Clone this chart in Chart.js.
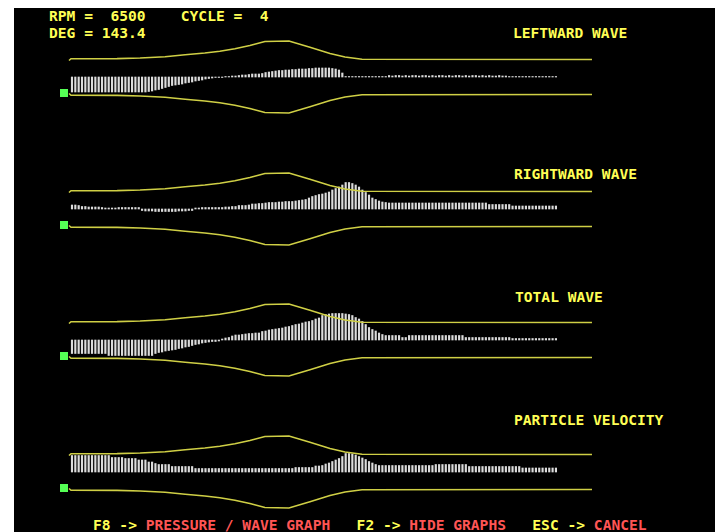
<!DOCTYPE html>
<html>
<head>
<meta charset="utf-8">
<script src="https://cdn.jsdelivr.net/npm/chart.js@4.4.0/dist/chart.umd.min.js"></script>
<style>
  body { margin: 0; background: #fff; width: 724px; height: 532px; overflow: hidden; position: relative; }
  #screen { position: absolute; left: 14px; top: 8px; width: 701px; height: 524px; background: #000; }
  .t { position: absolute; font-family: "DejaVu Sans Mono", monospace; font-weight: bold; font-size: 14.6px; line-height: 14.6px; white-space: pre; color: #ffff55; }
  .r { color: #ff5555; }
  canvas { position: absolute; }
</style>
</head>
<body>
<div id="screen"></div>
<div class="t" style="left:49px;top:9px">RPM =  6500    CYCLE =  4</div>
<div class="t" style="left:49px;top:26px">DEG = 143.4</div>
<div class="t" style="left:513px;top:26px">LEFTWARD WAVE</div>
<div class="t" style="left:514px;top:167px">RIGHTWARD WAVE</div>
<div class="t" style="left:515px;top:290px">TOTAL WAVE</div>
<div class="t" style="left:514px;top:413px">PARTICLE VELOCITY</div>
<div class="t" style="left:93px;top:518px">F8 -&gt; <span class="r">PRESSURE / WAVE GRAPH</span>   F2 -&gt; <span class="r">HIDE GRAPHS</span>   ESC -&gt; <span class="r">CANCEL</span></div>

<canvas id="c0" width="560" height="100" style="left:50px;top:27px"></canvas>
<canvas id="c1" width="560" height="100" style="left:50px;top:159px"></canvas>
<canvas id="c2" width="560" height="100" style="left:50px;top:290px"></canvas>
<canvas id="c3" width="560" height="100" style="left:50px;top:422px"></canvas>

<script>
// pipe outline: station along the pipe (cell units) and half width
const pipeStation = [-0.9, -0.3, 13.5, 20.4, 27.9, 33.9, 39.8, 44.3, 48.8, 53.3, 57.8, 65.0, 71.3, 77.3, 81.8, 86.9, 155.8];
const pipeRadius  = [16.5, 18.3, 18.4, 19.0, 20.3, 22.3, 24.0, 25.8, 28.3, 31.5, 35.5, 36.0, 29.7, 23.5, 20.0, 17.8, 17.5];

// piston marker
const markerStation = -2.4;
const markerValue = -16;

// one value per pipe cell (146 cells)
const leftwardWave = [
  -15, -15, -15, -15, -15, -15, -15, -15, -15, -15, -15, -15, -15, -15, -15, -15, -15, -15, -15, -15, -15, -15, -15,
  -14.5, -14, -13, -12.5, -11.5, -10.5, -9.5, -8.5, -8, -7.5, -7, -6, -5.5, -5, -4, -3.5, -3, -2, -1.5, -1, -0.5, -0.5, -0.5,
  0.5, 0.5, 1, 1, 1.5, 2, 2, 2.5, 3, 3, 3, 3.5, 4.5, 5, 5.5, 6, 6.5, 6.5, 7, 7, 7.5, 7.5, 8, 8, 8, 8.5, 8.5, 9, 9, 9, 9, 9, 8.5, 8, 7, 4,
  0.5, 0.5, 0.5, 0.5, 0.5, 0.5, 0.5, 0.5, 0.5, 0.5, 0.5, 0.5, 0.5,
  1.5, 1, 1.5, 1.5, 1, 1.5, 1, 1.5, 1.5, 1, 1.5, 1.5, 1, 1.5, 1, 1.5, 1.5, 1, 1.5, 1, 1.5, 1.5, 1, 1.5, 1, 1.5, 1.5, 1, 1.5, 1, 1.5, 1, 1, 1.5, 1, 1,
  0.5, 0.5, 0.5, 0.5, 0.5, 0.5, 0.5, 0.5, 0.5, 0.5, 0.5, 0.5, 0.5, 0.5, 0.5
];
const rightwardWave = [
  4, 4, 3.5, 2.5, 2.5, 2, 2, 2, 2, 1.5, 1, 1, 1, 1, 1.5, 1.5, 1.5, 1.5, 1.5, 1.5, 1.5,
  -1.5, -2, -2, -2, -2.5, -2.5, -2.5, -2.5, -2.5, -2.5, -2.5, -2, -2, -2, -1.5, -1.5,
  1, 1, 1.5, 1.5, 1.5, 1.5, 1.5, 1.5, 1.5,
  2, 2, 2.5, 2.5, 3.5, 3.5, 3.5, 4, 5, 5, 5.5, 5.5, 6, 6.5, 6.5, 6.5, 7, 7, 7.5, 7.5, 7.5, 8, 8.5, 9, 9.5,
  11, 12.5, 13.5, 14.5, 15, 16, 17, 19, 20.5, 22, 24, 26.5, 26.5, 25.5, 24, 22, 19, 16.5, 14, 11, 9.5, 8, 7, 6.5,
  6, 6, 6, 6, 6, 6, 6, 6, 6, 6, 6, 6, 6, 6, 6, 6, 6, 6, 6, 6, 6, 6, 6, 6, 6, 6, 6, 6, 6, 6,
  4.5, 4.5, 4.5, 4.5, 4.5, 4.5, 4.5,
  3, 3, 3, 3, 3, 3, 3, 3, 3, 3, 3, 3, 3, 3
];
const totalWave = [
  -13.5, -13.5, -13.5, -13.5, -13.5, -13.5, -13.5, -13.5, -13.5, -13.5, -13.5,
  -15.5, -15.5, -15.5, -15.5, -15.5, -15.5, -15.5, -15.5, -15.5, -15.5, -15.5, -15.5, -15.5, -15.5,
  -13.5, -12.5, -12, -11, -10.5, -10, -9.5, -8.5, -8, -7, -6.5, -5.5, -4.5, -4, -3, -2.5, -2, -1.5, -1.5, -1,
  1, 2, 2.5, 4, 5, 5, 5.5, 6, 6.5, 6.5, 7, 7, 8.5, 9, 10, 10.5, 11, 11.5, 12, 13, 13.5, 14.5, 15.5, 16, 17, 18, 18.5, 19.5,
  21, 22, 24.5, 25.5, 26, 26.5, 26.5, 26.5, 26.5, 26, 25.5, 24.5, 22.5, 21, 18.5, 15.5, 12.5, 10.5, 9, 7, 5.5,
  4.5, 4.5, 4.5, 4.5, 4.5, 2.5, 2.5,
  4.5, 4.5, 4.5, 4.5, 4.5, 4.5, 4.5, 4.5, 4.5, 4.5, 4.5, 4.5, 4.5, 4.5, 4.5, 4.5, 4.5,
  2.5, 2.5, 2.5, 2.5, 2.5, 2.5, 2.5, 2.5, 2.5, 2.5, 2.5, 2.5, 2.5, 2.5,
  1.5, 1.5, 1.5, 1.5, 1.5, 1.5, 1.5, 1.5, 1.5, 1.5, 1.5, 1.5, 1.5, 1.5
];
const particleVelocity = [
  16.5, 16.5, 16.5, 16.5, 16.5, 16.5, 16.5, 16.5, 16.5, 16.5, 16.5, 16.5,
  14.5, 14.5, 14.5, 14.5, 13.5, 13.5, 13.5, 13.5, 12, 12, 12, 10, 10, 8.5, 7.5, 7.5, 7.5, 7.5,
  5.5, 5.5, 5.5, 5.5, 5.5, 5.5, 5.5,
  3.5, 3.5, 3.5, 3.5, 3.5, 3.5, 3.5, 3.5, 3.5, 3.5, 3.5, 3.5, 3.5, 3.5, 3.5, 3.5, 3.5, 3.5, 3.5, 3.5, 3.5, 3.5, 3.5, 3.5, 3.5, 3.5, 3.5, 3.5, 3.5, 3.5,
  4.5, 4.5, 4.5, 4.5, 4.5, 4.5,
  6, 6, 6.5, 8, 9, 10.5, 12, 13.5, 15.5, 18.5, 18.5, 18, 17, 15.5, 14, 12.5, 10.5, 9, 7.5,
  6.5, 6.5, 6.5, 6.5, 6.5, 6.5, 6.5, 6.5, 6.5, 6.5, 6.5, 6.5, 6.5, 6.5, 6.5, 6.5, 6.5,
  7.5, 7.5, 7.5, 7.5, 7.5, 7.5, 7.5, 7.5, 7.5, 7.5,
  5.5, 5.5, 5.5, 5.5, 5.5, 5.5, 5.5, 5.5, 5.5, 5.5, 5.5, 5.5, 5.5, 5.5, 5.5, 5.5,
  4, 4, 4, 4, 4, 4, 4, 4, 4, 4, 4
];

const panels = [leftwardWave, rightwardWave, totalWave, particleVelocity];

const LINE_COLOR = "#cfcf45";
const BAR_COLOR = "#dcdcdc";

function drawPanel(id, values) {
  const upper = pipeStation.map((s, i) => ({ x: s, y: pipeRadius[i] }));
  const lower = pipeStation.map((s, i) => ({ x: s, y: -pipeRadius[i] }));
  const cells = values.map((v, i) => ({ x: i, y: v }));

  new Chart(document.getElementById(id), {
    type: "bar",
    data: {
      datasets: [
        {
          type: "line",
          data: upper,
          borderColor: LINE_COLOR,
          borderWidth: 1.6,
          pointRadius: 0,
          tension: 0,
        },
        {
          type: "line",
          data: lower,
          borderColor: LINE_COLOR,
          borderWidth: 1.6,
          pointRadius: 0,
          tension: 0,
        },
        {
          type: "bar",
          data: cells,
          backgroundColor: BAR_COLOR,
          barThickness: 1.5,
          borderWidth: 0,
        },
        {
          type: "scatter",
          data: [{ x: markerStation, y: markerValue }],
          pointStyle: "rect",
          pointRadius: 5.66,
          backgroundColor: "#55ff55",
          borderWidth: 0,
        },
      ],
    },
    options: {
      responsive: false,
      animation: false,
      layout: { padding: 0, autoPadding: false },
      plugins: { legend: { display: false }, tooltip: { enabled: false } },
      scales: {
        x: { type: "linear", min: -6.59, max: 161.2, offset: false, display: false },
        y: { min: -50, max: 50, display: false },
      },
    },
  });
}

panels.forEach((values, k) => drawPanel("c" + k, values));
</script>
</body>
</html>
